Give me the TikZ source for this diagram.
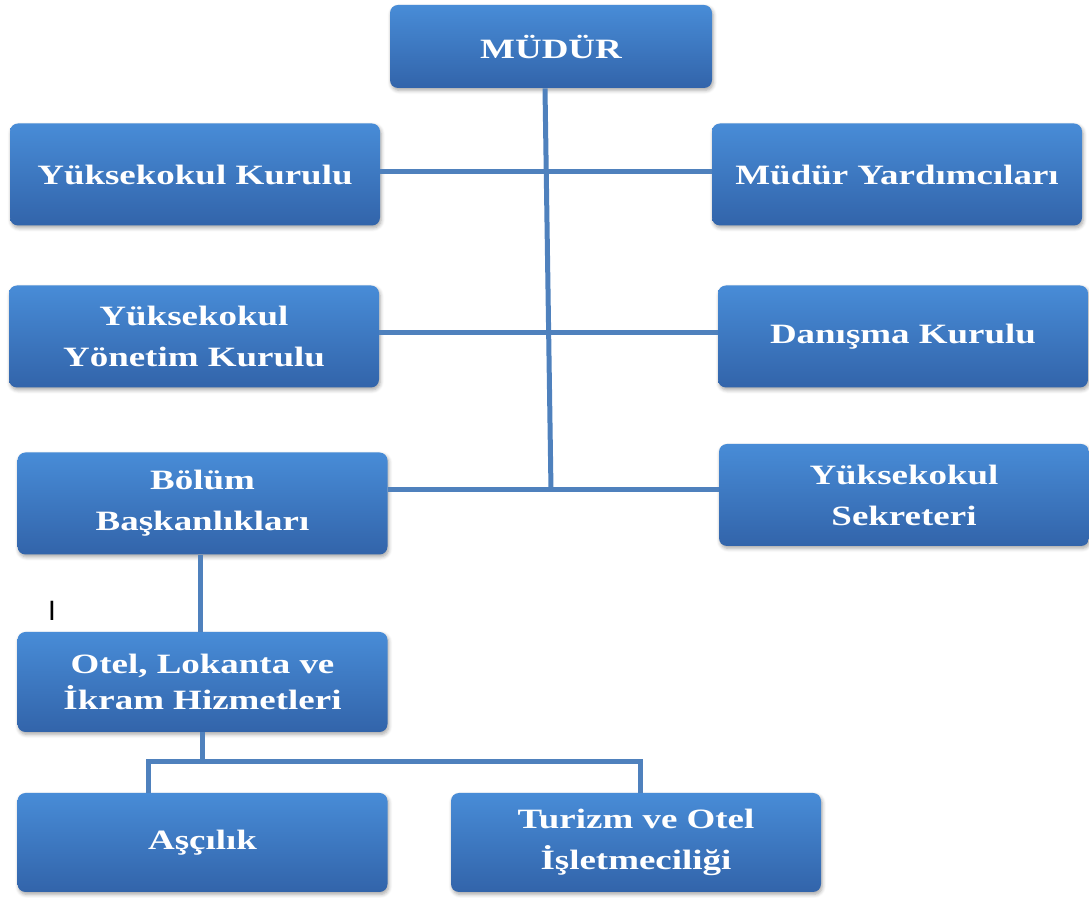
\documentclass[tikz,border=0pt]{standalone}
\usepackage{fontspec}
\setmainfont{Liberation Serif}
\newfontfamily\unitFont[FakeStretch=1.32]{Liberation Serif}
\newfontfamily\markFont{Liberation Sans}
\usetikzlibrary{positioning, shadows.blur, calc}
\definecolor{boxTop}{RGB}{72, 140, 215}
\definecolor{boxBottom}{RGB}{50, 100, 170}
\definecolor{linkBlue}{RGB}{79, 129, 189}
\tikzset{
    % Base unit box
    unitBox/.style={
        rectangle,
        rounded corners=4pt,
        minimum width=185pt,
        minimum height=51pt,
        align=center,
        inner sep=2pt,
        font=\unitFont\bfseries\fontsize{14}{20.5}\selectfont,
        text=white,
        top color=boxTop,
        bottom color=boxBottom,
        draw=none,
        blur shadow={shadow blur steps=5, shadow xshift=0.6pt, shadow yshift=-1.2pt, shadow opacity=35}
    },
    % Connector lines
    link/.style={draw=linkBlue, line width=2.5pt}
}

\begin{document}
\begin{tikzpicture}[x=0.5pt, y=-0.5pt]

    \useasboundingbox (0,0) rectangle (1089,898);

    % --- TOP ---
    \node (mudur) [unitBox, minimum width=161pt, minimum height=41.5pt] at (551,46.5) {MÜDÜR};

    % --- LEFT COLUMN ---
    \node (ykurul)   [unitBox] at (195,174.5) {Yüksekokul Kurulu};
    \node (yonetim)  [unitBox] at (194,336.5) {Yüksekokul\\Yönetim Kurulu};
    \node (bolum)    [unitBox] at (202.5,503.5) {Bölüm\\Başkanlıkları};

    % --- RIGHT COLUMN ---
    \node (yard)     [unitBox] at (897,174.5) {Müdür Yardımcıları};
    \node (danisma)  [unitBox] at (903,336.5) {Danışma Kurulu};
    \node (sekreter) [unitBox] at (904,495) {Yüksekokul\\Sekreteri};

    % --- LOWER BRANCH ---
    \node (otel)    [unitBox, minimum height=50pt, font=\unitFont\bfseries\fontsize{14}{18}\selectfont] at (202.5,682) {Otel, Lokanta ve\\İkram Hizmetleri};
    \node (ascilik) [unitBox, minimum height=49.5pt] at (202.5,842.5) {Aşçılık};
    \node (turizm)  [unitBox, minimum height=49.5pt] at (636,842.5) {Turizm ve Otel\\İşletmeciliği};

    \node (stray) [font=\markFont\fontsize{14}{16}\selectfont] at (52,611) {I};

    % --- Junction points ---
    \coordinate (hub)   at (551,490);
    \coordinate (split) at (202,762);
    \coordinate (leftT) at (146,762);
    \coordinate (rightT) at (640,762);

    % --- Connectors ---
    \draw [link] (mudur.south -| 545,0) -- (hub);
    \draw [link] (ykurul.east |- 0,172) -- (yard.west |- 0,172);
    \draw [link] (yonetim.east |- 0,333) -- (danisma.west |- 0,333);
    \draw [link] (bolum.east |- hub) -- (sekreter.west |- hub);
    \draw [link] (bolum.south -| 200,0) -- (otel.north -| 200,0);
    \draw [link] (otel.south -| split) -- (split);
    \draw [link] (ascilik.north -| 148,0) -- (148,762) -- (leftT) -- (rightT) -- (turizm.north -| rightT);

\end{tikzpicture}
\end{document}
